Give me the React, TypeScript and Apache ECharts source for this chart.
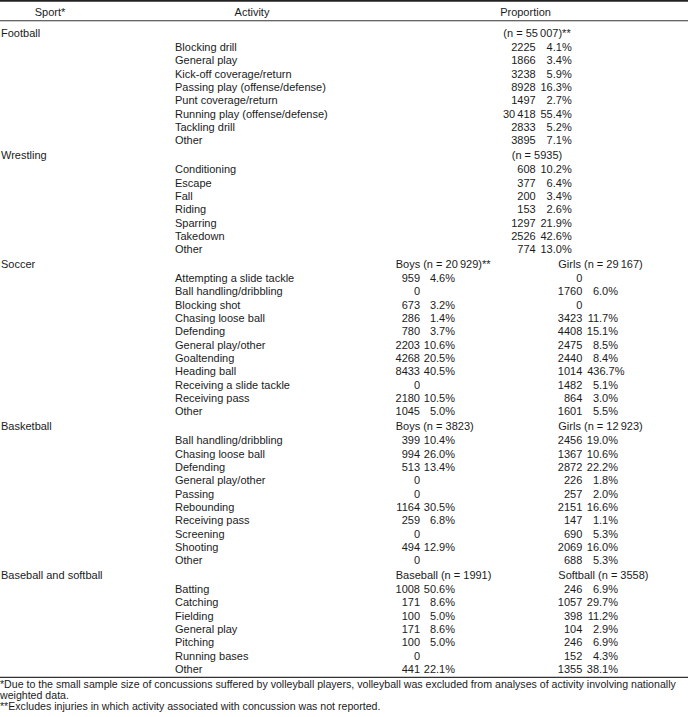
import React, { useEffect, useRef } from "react";
import * as echarts from "echarts";

const W = 688;
const H = 717;
const FONT = "'Liberation Sans', Arial, Helvetica, sans-serif";
const FS = 11;
const FOOT_FS = 10.6;
const INK = "#1b1b1b";

// ---------- data ----------
const columnHeaders = ["Sport*", "Activity", "Proportion"];

const footballActivities = [
  "Blocking drill",
  "General play",
  "Kick-off coverage/return",
  "Passing play (offense/defense)",
  "Punt coverage/return",
  "Running play (offense/defense)",
  "Tackling drill",
  "Other",
];
const footballN = 55007;
const footballCounts = [2225, 1866, 3238, 8928, 1497, 30418, 2833, 3895];
const footballPct = [4.1, 3.4, 5.9, 16.3, 2.7, 55.4, 5.2, 7.1];

const wrestlingActivities = ["Conditioning", "Escape", "Fall", "Riding", "Sparring", "Takedown", "Other"];
const wrestlingN = 5935;
const wrestlingCounts = [608, 377, 200, 153, 1297, 2526, 774];
const wrestlingPct = [10.2, 6.4, 3.4, 2.6, 21.9, 42.6, 13.0];

const soccerActivities = [
  "Attempting a slide tackle",
  "Ball handling/dribbling",
  "Blocking shot",
  "Chasing loose ball",
  "Defending",
  "General play/other",
  "Goaltending",
  "Heading ball",
  "Receiving a slide tackle",
  "Receiving pass",
  "Other",
];
const soccerBoysN = 20929;
const soccerBoysCounts = [959, 0, 673, 286, 780, 2203, 4268, 8433, 0, 2180, 1045];
const soccerBoysPct = [4.6, null, 3.2, 1.4, 3.7, 10.6, 20.5, 40.5, null, 10.5, 5.0];
const soccerGirlsN = 29167;
const soccerGirlsCounts = [0, 1760, 0, 3423, 4408, 2475, 2440, 1014, 1482, 864, 1601];
const soccerGirlsPct = [null, 6.0, null, 11.7, 15.1, 8.5, 8.4, 436.7, 5.1, 3.0, 5.5];

const basketballActivities = [
  "Ball handling/dribbling",
  "Chasing loose ball",
  "Defending",
  "General play/other",
  "Passing",
  "Rebounding",
  "Receiving pass",
  "Screening",
  "Shooting",
  "Other",
];
const basketballBoysN = 3823;
const basketballBoysCounts = [399, 994, 513, 0, 0, 1164, 259, 0, 494, 0];
const basketballBoysPct = [10.4, 26.0, 13.4, null, null, 30.5, 6.8, null, 12.9, null];
const basketballGirlsN = 12923;
const basketballGirlsCounts = [2456, 1367, 2872, 226, 257, 2151, 147, 690, 2069, 688];
const basketballGirlsPct = [19.0, 10.6, 22.2, 1.8, 2.0, 16.6, 1.1, 5.3, 16.0, 5.3];

const baseballActivities = ["Batting", "Catching", "Fielding", "General play", "Pitching", "Running bases", "Other"];
const baseballN = 1991;
const baseballCounts = [1008, 171, 100, 171, 100, 0, 441];
const baseballPct = [50.6, 8.6, 5.0, 8.6, 5.0, null, 22.1];
const softballN = 3558;
const softballCounts = [246, 1057, 398, 104, 246, 152, 1355];
const softballPct = [6.9, 29.7, 11.2, 2.9, 6.9, 4.3, 38.1];

const footnotes = [
  "*Due to the small sample size of concussions suffered by volleyball players, volleyball was excluded from analyses of activity involving nationally",
  "weighted data.",
  "**Excludes injuries in which activity associated with concussion was not reported.",
];

type Group = { label: string; n: number; mark: string; counts: number[]; pct: (number | null)[] };
type Section = { sport: string; activities: string[]; groups: Group[] };

const sections: Section[] = [
  { sport: "Football", activities: footballActivities, groups: [{ label: "", n: footballN, mark: "**", counts: footballCounts, pct: footballPct }] },
  { sport: "Wrestling", activities: wrestlingActivities, groups: [{ label: "", n: wrestlingN, mark: "", counts: wrestlingCounts, pct: wrestlingPct }] },
  {
    sport: "Soccer",
    activities: soccerActivities,
    groups: [
      { label: "Boys", n: soccerBoysN, mark: "**", counts: soccerBoysCounts, pct: soccerBoysPct },
      { label: "Girls", n: soccerGirlsN, mark: "", counts: soccerGirlsCounts, pct: soccerGirlsPct },
    ],
  },
  {
    sport: "Basketball",
    activities: basketballActivities,
    groups: [
      { label: "Boys", n: basketballBoysN, mark: "", counts: basketballBoysCounts, pct: basketballBoysPct },
      { label: "Girls", n: basketballGirlsN, mark: "", counts: basketballGirlsCounts, pct: basketballGirlsPct },
    ],
  },
  {
    sport: "Baseball and softball",
    activities: baseballActivities,
    groups: [
      { label: "Baseball", n: baseballN, mark: "", counts: baseballCounts, pct: baseballPct },
      { label: "Softball", n: softballN, mark: "", counts: softballCounts, pct: softballPct },
    ],
  },
];

// ---------- formatting ----------
const fmtNum = (v: number) => {
  const s = String(v);
  if (v >= 10000) return s.slice(0, s.length - 3) + "\u2009" + s.slice(s.length - 3);
  return s;
};
const fmtPct = (v: number) => v.toFixed(1) + "%";

// ---------- layout ----------
const X_SPORT = 1;
const X_ACT = 175;
const HEAD_Y = 11.5;
const FIRST_SECTION_Y = 33;
const STEP = 13.33;
const HEAD_TO_ITEM = 14;
const ITEM_TO_HEAD = 14.9;

const SINGLE = { headCenter: 537, countRight: 535.7, pctRight: 571.7 };
const DOUBLE = [
  { headLeft: 395.7, countRight: 420, pctRight: 455 },
  { headLeft: 558.3, countRight: 582.3, pctRight: 618 },
];

type Cell = { text: string; x: number; align: "left" | "right" | "center"; size?: number };
type Row = { y: number; cells: Cell[] };

function buildRows(): Row[] {
  const rows: Row[] = [];
  rows.push({
    y: HEAD_Y,
    cells: [
      { text: columnHeaders[0], x: 50, align: "center" },
      { text: columnHeaders[1], x: 252, align: "center" },
      { text: columnHeaders[2], x: 525.5, align: "center" },
    ],
  });
  let y = FIRST_SECTION_Y;
  sections.forEach((sec, si) => {
    if (si > 0) y += ITEM_TO_HEAD;
    const headCells: Cell[] = [{ text: sec.sport, x: X_SPORT, align: "left" }];
    sec.groups.forEach((g, gi) => {
      const nText = (g.label ? g.label + " " : "") + "(n = " + fmtNum(g.n) + ")" + g.mark;
      if (sec.groups.length === 1) headCells.push({ text: nText, x: SINGLE.headCenter, align: "center" });
      else headCells.push({ text: nText, x: DOUBLE[gi].headLeft, align: "left" });
    });
    rows.push({ y, cells: headCells });
    y += HEAD_TO_ITEM;
    sec.activities.forEach((act, ai) => {
      if (ai > 0) y += STEP;
      const cells: Cell[] = [{ text: act, x: X_ACT, align: "left" }];
      sec.groups.forEach((g, gi) => {
        const col = sec.groups.length === 1 ? SINGLE : DOUBLE[gi];
        cells.push({ text: fmtNum(g.counts[ai]), x: col.countRight, align: "right" });
        const p = g.pct[ai];
        if (p !== null && p !== undefined) {
          const shift = p >= 100 ? 6.5 : 0;
          cells.push({ text: fmtPct(p), x: col.pctRight + shift, align: "right" });
        }
      });
      rows.push({ y, cells });
    });
  });
  return rows;
}

const rows = buildRows();
const footY = [684.4, 695.1, 706];

export default function App() {
  const ref = useRef<HTMLDivElement>(null);
  useEffect(() => {
    if (!ref.current) return;
    const chart = echarts.init(ref.current, undefined, { renderer: "svg", width: W, height: H });
    const allRows: Row[] = [
      ...rows,
      ...footnotes.map((t, i) => ({ y: footY[i], cells: [{ text: t, x: 0, align: "left" as const, size: FOOT_FS }] })),
    ];
    chart.setOption({
      animation: false,
      backgroundColor: "#ffffff",
      grid: { left: 0, right: 0, top: 0, bottom: 0 },
      xAxis: { type: "value", min: 0, max: W, show: false },
      yAxis: { type: "value", min: 0, max: H, inverse: true, show: false },
      graphic: [
        { type: "rect", shape: { x: 0, y: 0, width: W, height: 1.7 }, style: { fill: "#222" } },
        { type: "rect", shape: { x: 0, y: 20.2, width: W, height: 1.1 }, style: { fill: "#333" } },
        { type: "rect", shape: { x: 0, y: 676.8, width: W, height: 1.1 }, style: { fill: "#333" } },
      ],
      series: [
        {
          type: "custom",
          coordinateSystem: "cartesian2d",
          data: allRows.map((r) => [0, r.y]),
          silent: true,
          renderItem: (params: any, api: any) => {
            const row = allRows[params.dataIndex];
            const yv = api.value(1);
            return {
              type: "group",
              children: row.cells.map((c) => {
                const p = api.coord([c.x, yv]);
                return {
                  type: "text",
                  x: p[0],
                  y: p[1],
                  style: {
                    text: c.text,
                    fill: INK,
                    font: `${c.size || FS}px ${FONT}`,
                    textAlign: c.align,
                    textVerticalAlign: "middle",
                  },
                };
              }),
            };
          },
        },
      ],
    });
    return () => chart.dispose();
  }, []);
  return (
    <div
      ref={ref}
      style={{ position: "fixed", left: 0, top: 0, width: W, height: H, background: "#fff" }}
    />
  );
}
